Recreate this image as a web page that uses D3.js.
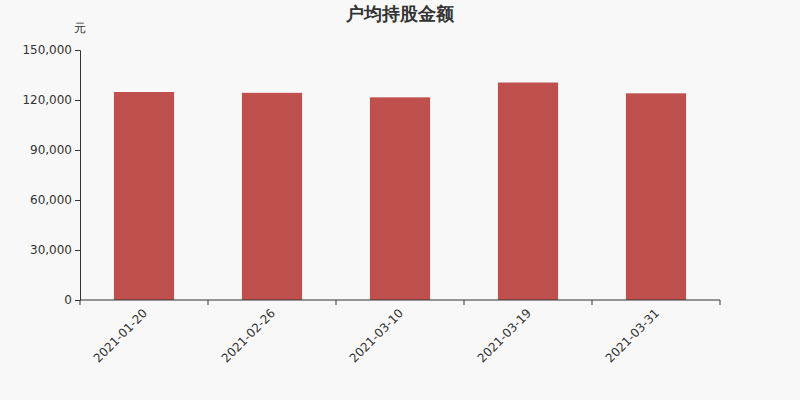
<!DOCTYPE html>
<html>
<head>
<meta charset="utf-8">
<script src="https://cdn.jsdelivr.net/npm/d3@7"></script>
<style>
  body { margin: 0; background: #f8f8f8; }
  text { font-family: "DejaVu Sans", sans-serif; }
</style>
</head>
<body>
<div id="chart"></div>
<script>
var dates = ["2021-01-20", "2021-02-26", "2021-03-10", "2021-03-19", "2021-03-31"];
var amounts = [124800, 124300, 121600, 130500, 124000];
var yTicks = [0, 30000, 60000, 90000, 120000, 150000];

var svgWidth = 800, svgHeight = 400;
var margin = { top: 50, right: 80, bottom: 100, left: 80 };
var width = svgWidth - margin.left - margin.right;
var height = svgHeight - margin.top - margin.bottom;

var svg = d3.select("#chart").append("svg")
    .attr("width", svgWidth)
    .attr("height", svgHeight)
    .style("background", "#f8f8f8");

var chartGroup = svg.append("g")
    .attr("transform", `translate(${margin.left}, ${margin.top})`);

var x = d3.scaleBand().domain(dates).range([0, width]).paddingInner(0.53).paddingOuter(0.265);
var y = d3.scaleLinear().domain([0, 150000]).range([height, 0]);

// bars
chartGroup.selectAll("rect")
    .data(amounts)
    .enter()
    .append("rect")
    .attr("x", (d, i) => x(dates[i]))
    .attr("y", d => y(d))
    .attr("width", x.bandwidth())
    .attr("height", d => height - y(d))
    .attr("fill", "#c0504d");

// y axis
var leftAxis = d3.axisLeft(y).tickValues(yTicks).tickSize(5).tickFormat(d3.format(","));
var gy = chartGroup.append("g").call(leftAxis);
gy.selectAll("text").attr("font-size", 12).attr("fill", "#333").attr("font-family", "DejaVu Sans");
gy.selectAll("line, path").attr("stroke", "#333");

// x axis with ticks at band boundaries
var gx = chartGroup.append("g").attr("transform", `translate(0, ${height})`);
gx.append("line").attr("x1", 0).attr("x2", width).attr("stroke", "#333");
var bounds = d3.range(dates.length + 1).map(i => i * width / dates.length);
gx.selectAll(".tk").data(bounds).enter().append("line")
    .attr("x1", d => d).attr("x2", d => d).attr("y1", 0).attr("y2", 5)
    .attr("stroke", "#333");
gx.selectAll(".lbl").data(dates).enter().append("text")
    .attr("transform", d => `translate(${x(d) + x.bandwidth() / 2 - 2}, 8) rotate(-45)`)
    .attr("text-anchor", "end")
    .attr("dy", "0.7em")
    .attr("font-size", 12)
    .attr("fill", "#333")
    .text(d => d);

// title and unit
svg.append("text")
    .attr("x", 400).attr("y", 20)
    .attr("text-anchor", "middle")
    .attr("font-size", 18)
    .attr("font-weight", "bold")
    .attr("fill", "#333")
    .attr("font-family", "Noto Sans CJK SC")
    .text("户均持股金额");

svg.append("text")
    .attr("x", 80).attr("y", 32)
    .attr("text-anchor", "middle")
    .attr("font-size", 12)
    .attr("fill", "#333")
    .attr("font-family", "Noto Sans CJK SC")
    .text("元");
</script>
</body>
</html>
